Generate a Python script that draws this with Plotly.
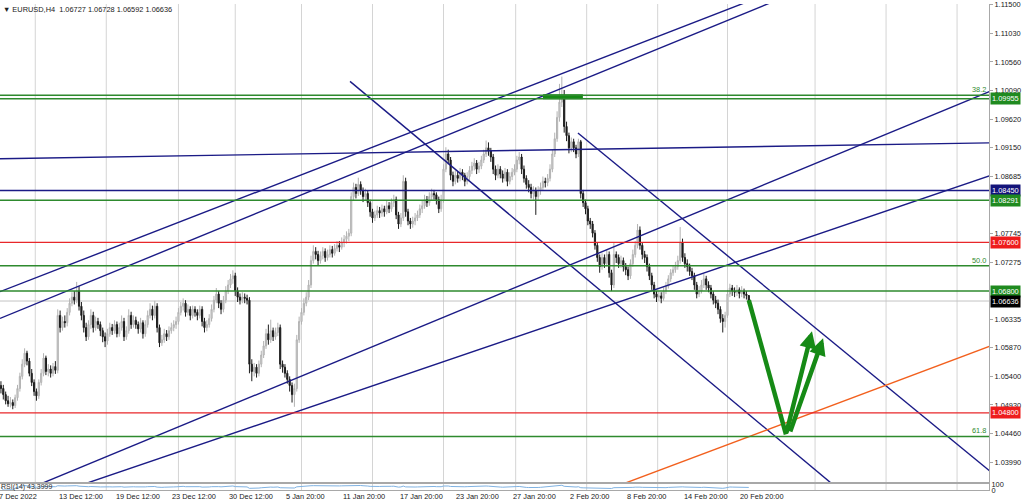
import numpy as np
import plotly.graph_objects as go

# ---------------- data ----------------
first_open = 1.0525
closes = [
    1.0520, 1.0510, 1.0500, 1.0495, 1.0497, 1.0492, 1.0505, 1.0520, 1.0540, 1.0560,   # 0
    1.0578, 1.0565, 1.0545, 1.0530, 1.0515, 1.0508, 1.0530, 1.0545, 1.0570, 1.0548,   # 10
    1.0552, 1.0545, 1.0556, 1.0550, 1.0640, 1.0620, 1.0630, 1.0628, 1.0645, 1.0660,   # 20
    1.0670, 1.0665, 1.0680, 1.0655, 1.0640, 1.0620, 1.0605, 1.0625, 1.0640, 1.0620,   # 30
    1.0630, 1.0625, 1.0615, 1.0605, 1.0598, 1.0610, 1.0620, 1.0615, 1.0625, 1.0610,   # 40
    1.0620, 1.0630, 1.0605, 1.0615, 1.0640, 1.0625, 1.0632, 1.0625, 1.0618, 1.0628,   # 50
    1.0610, 1.0625, 1.0640, 1.0650, 1.0640, 1.0655, 1.0620, 1.0595, 1.0600, 1.0610,   # 60
    1.0605, 1.0615, 1.0620, 1.0625, 1.0630, 1.0645, 1.0655, 1.0660, 1.0645, 1.0650,   # 70
    1.0640, 1.0650, 1.0645, 1.0640, 1.0650, 1.0630, 1.0620, 1.0625, 1.0635, 1.0650,   # 80
    1.0665, 1.0675, 1.0660, 1.0650, 1.0665, 1.0680, 1.0690, 1.0700, 1.0705, 1.0680,   # 90
    1.0670, 1.0665, 1.0670, 1.0668, 1.0665, 1.0560, 1.0548, 1.0555, 1.0545, 1.0560,   # 100
    1.0575, 1.0590, 1.0610, 1.0600, 1.0615, 1.0605, 1.0612, 1.0620, 1.0560, 1.0555,   # 110
    1.0545, 1.0535, 1.0525, 1.0510, 1.0520, 1.0600, 1.0630, 1.0645, 1.0660, 1.0670,   # 120
    1.0690, 1.0730, 1.0745, 1.0740, 1.0730, 1.0738, 1.0745, 1.0735, 1.0740, 1.0748,   # 130
    1.0742, 1.0750, 1.0755, 1.0752, 1.0760, 1.0765, 1.0770, 1.0775, 1.0835, 1.0850,   # 140
    1.0840, 1.0855, 1.0845, 1.0835, 1.0840, 1.0825, 1.0810, 1.0800, 1.0805, 1.0812,   # 150
    1.0808, 1.0815, 1.0810, 1.0820, 1.0815, 1.0825, 1.0830, 1.0805, 1.0790, 1.0800,   # 160
    1.0860, 1.0810, 1.0795, 1.0790, 1.0795, 1.0800, 1.0805, 1.0815, 1.0820, 1.0830,   # 170
    1.0825, 1.0835, 1.0840, 1.0838, 1.0830, 1.0815, 1.0830, 1.0880, 1.0905, 1.0895,   # 180
    1.0870, 1.0860, 1.0870, 1.0865, 1.0875, 1.0870, 1.0860, 1.0868, 1.0878, 1.0885,   # 190
    1.0890, 1.0880, 1.0885, 1.0895, 1.0905, 1.0915, 1.0910, 1.0900, 1.0880, 1.0870,   # 200
    1.0880, 1.0872, 1.0865, 1.0875, 1.0860, 1.0868, 1.0875, 1.0880, 1.0895, 1.0900,   # 210
    1.0880, 1.0865, 1.0855, 1.0850, 1.0840, 1.0845, 1.0835, 1.0845, 1.0850, 1.0860,   # 220
    1.0858, 1.0865, 1.0880, 1.0905, 1.0930, 1.0965, 1.0990, 1.1000, 1.0950, 1.0935,   # 230
    1.0915, 1.0925, 1.0915, 1.0905, 1.0925, 1.0840, 1.0825, 1.0815, 1.0795, 1.0790,   # 240
    1.0775, 1.0755, 1.0735, 1.0720, 1.0735, 1.0725, 1.0740, 1.0710, 1.0690, 1.0740,   # 250
    1.0735, 1.0725, 1.0730, 1.0720, 1.0715, 1.0705, 1.0725, 1.0740, 1.0755, 1.0780,   # 260
    1.0755, 1.0740, 1.0735, 1.0720, 1.0705, 1.0690, 1.0675, 1.0670, 1.0672, 1.0668,   # 270
    1.0680, 1.0688, 1.0700, 1.0710, 1.0715, 1.0720, 1.0730, 1.0760, 1.0735, 1.0725,   # 280
    1.0720, 1.0712, 1.0705, 1.0690, 1.0675, 1.0680, 1.0690, 1.0700, 1.0690, 1.0685,   # 290
    1.0675, 1.0665, 1.0660, 1.0650, 1.0635, 1.0630, 1.0640, 1.0675, 1.0685, 1.0680,   # 300
    1.0678, 1.0682, 1.0676, 1.0680, 1.0675, 1.06727, 1.06636,                         # 310
]
highs = [
    1.0532, 1.0526, 1.0515, 1.0508, 1.0506, 1.0502, 1.0510, 1.0526, 1.0546, 1.0568,
    1.0586, 1.0582, 1.0570, 1.0552, 1.0535, 1.0520, 1.0535, 1.0552, 1.0578, 1.0574,
    1.0560, 1.0558, 1.0562, 1.0565, 1.0650, 1.0648, 1.0638, 1.0640, 1.0652, 1.0668,
    1.0678, 1.0680, 1.0695, 1.0688, 1.0662, 1.0648, 1.0628, 1.0632, 1.0650, 1.0646,
    1.0638, 1.0636, 1.0630, 1.0620, 1.0612, 1.0618, 1.0628, 1.0626, 1.0632, 1.0630,
    1.0628, 1.0640, 1.0636, 1.0622, 1.0650, 1.0646, 1.0640, 1.0638, 1.0630, 1.0636,
    1.0632, 1.0632, 1.0648, 1.0660, 1.0656, 1.0664, 1.0660, 1.0625, 1.0608, 1.0618,
    1.0616, 1.0622, 1.0628, 1.0632, 1.0638, 1.0652, 1.0662, 1.0668, 1.0665, 1.0658,
    1.0655, 1.0656, 1.0655, 1.0650, 1.0656, 1.0655, 1.0636, 1.0632, 1.0642, 1.0658,
    1.0672, 1.0685, 1.0680, 1.0665, 1.0672, 1.0688, 1.0698, 1.0708, 1.0714, 1.0710,
    1.0686, 1.0676, 1.0678, 1.0676, 1.0674, 1.0670, 1.0568, 1.0562, 1.0560, 1.0566,
    1.0582, 1.0598, 1.0618, 1.0625, 1.0633, 1.0620, 1.0620, 1.0628, 1.0625, 1.0566,
    1.0560, 1.0550, 1.0540, 1.0530, 1.0528, 1.0608, 1.0638, 1.0652, 1.0668, 1.0678,
    1.0698, 1.0738, 1.0755, 1.0752, 1.0746, 1.0745, 1.0752, 1.0750, 1.0748, 1.0755,
    1.0754, 1.0757, 1.0762, 1.0762, 1.0768, 1.0772, 1.0778, 1.0782, 1.0842, 1.0858,
    1.0856, 1.0866, 1.0860, 1.0850, 1.0848, 1.0845, 1.0830, 1.0815, 1.0812, 1.0820,
    1.0818, 1.0822, 1.0820, 1.0828, 1.0826, 1.0832, 1.0838, 1.0835, 1.0810, 1.0808,
    1.0870, 1.0866, 1.0815, 1.0800, 1.0802, 1.0808, 1.0812, 1.0822, 1.0828, 1.0838,
    1.0836, 1.0842, 1.0848, 1.0846, 1.0842, 1.0835, 1.0838, 1.0888, 1.0916, 1.0912,
    1.0900, 1.0876, 1.0878, 1.0876, 1.0882, 1.0880, 1.0874, 1.0875, 1.0885, 1.0892,
    1.0898, 1.0895, 1.0892, 1.0902, 1.0912, 1.0927, 1.0924, 1.0915, 1.0905, 1.0886,
    1.0888, 1.0885, 1.0878, 1.0882, 1.0880, 1.0875, 1.0882, 1.0888, 1.0902, 1.0908,
    1.0905, 1.0886, 1.0870, 1.0862, 1.0856, 1.0852, 1.0850, 1.0852, 1.0858, 1.0868,
    1.0866, 1.0872, 1.0888, 1.0912, 1.0940, 1.0975, 1.1020, 1.1032, 1.1010, 1.0958,
    1.0940, 1.0932, 1.0930, 1.0920, 1.0930, 1.0928, 1.0846, 1.0830, 1.0820, 1.0800,
    1.0795, 1.0780, 1.0760, 1.0740, 1.0742, 1.0740, 1.0748, 1.0745, 1.0715, 1.0760,
    1.0745, 1.0740, 1.0738, 1.0735, 1.0726, 1.0720, 1.0732, 1.0748, 1.0762, 1.0790,
    1.0786, 1.0760, 1.0746, 1.0740, 1.0725, 1.0710, 1.0695, 1.0680, 1.0680, 1.0678,
    1.0686, 1.0695, 1.0706, 1.0716, 1.0722, 1.0728, 1.0738, 1.0785, 1.0766, 1.0742,
    1.0732, 1.0725, 1.0718, 1.0710, 1.0695, 1.0688, 1.0698, 1.0708, 1.0705, 1.0696,
    1.0690, 1.0680, 1.0672, 1.0666, 1.0655, 1.0642, 1.0646, 1.0682, 1.0692, 1.0690,
    1.0686, 1.0690, 1.0686, 1.0688, 1.0684, 1.0680, 1.06728,
]
lows = [
    1.0512, 1.0502, 1.0494, 1.0490, 1.0489, 1.0486, 1.0488, 1.0500, 1.0515, 1.0535,
    1.0555, 1.0558, 1.0540, 1.0524, 1.0508, 1.0500, 1.0503, 1.0525, 1.0540, 1.0542,
    1.0540, 1.0538, 1.0540, 1.0544, 1.0545, 1.0612, 1.0615, 1.0620, 1.0622, 1.0640,
    1.0655, 1.0658, 1.0660, 1.0648, 1.0632, 1.0612, 1.0598, 1.0600, 1.0618, 1.0612,
    1.0615, 1.0618, 1.0606, 1.0596, 1.0588, 1.0592, 1.0605, 1.0608, 1.0610, 1.0604,
    1.0605, 1.0615, 1.0598, 1.0600, 1.0610, 1.0618, 1.0620, 1.0618, 1.0610, 1.0612,
    1.0602, 1.0605, 1.0620, 1.0635, 1.0632, 1.0635, 1.0612, 1.0588, 1.0590, 1.0595,
    1.0598, 1.0600, 1.0610, 1.0614, 1.0618, 1.0625, 1.0640, 1.0648, 1.0638, 1.0640,
    1.0632, 1.0635, 1.0638, 1.0632, 1.0635, 1.0622, 1.0612, 1.0614, 1.0620, 1.0630,
    1.0645, 1.0660, 1.0652, 1.0642, 1.0645, 1.0660, 1.0675, 1.0685, 1.0692, 1.0672,
    1.0662, 1.0658, 1.0660, 1.0660, 1.0658, 1.0545, 1.0532, 1.0540, 1.0538, 1.0540,
    1.0555, 1.0570, 1.0585, 1.0592, 1.0595, 1.0598, 1.0600, 1.0606, 1.0552, 1.0546,
    1.0538, 1.0528, 1.0515, 1.0497, 1.0490, 1.0515, 1.0595, 1.0625, 1.0640, 1.0655,
    1.0665, 1.0685, 1.0725, 1.0732, 1.0722, 1.0725, 1.0732, 1.0728, 1.0730, 1.0735,
    1.0735, 1.0738, 1.0745, 1.0744, 1.0748, 1.0752, 1.0758, 1.0762, 1.0770, 1.0828,
    1.0832, 1.0836, 1.0838, 1.0826, 1.0828, 1.0818, 1.0802, 1.0792, 1.0795, 1.0800,
    1.0800, 1.0802, 1.0802, 1.0806, 1.0808, 1.0810, 1.0818, 1.0798, 1.0782, 1.0785,
    1.0795, 1.0802, 1.0788, 1.0782, 1.0784, 1.0788, 1.0795, 1.0800, 1.0808, 1.0815,
    1.0818, 1.0820, 1.0828, 1.0830, 1.0822, 1.0808, 1.0810, 1.0825, 1.0875, 1.0888,
    1.0862, 1.0852, 1.0855, 1.0858, 1.0860, 1.0862, 1.0852, 1.0855, 1.0862, 1.0872,
    1.0878, 1.0872, 1.0874, 1.0880, 1.0890, 1.0900, 1.0902, 1.0892, 1.0872, 1.0862,
    1.0865, 1.0865, 1.0858, 1.0860, 1.0852, 1.0855, 1.0862, 1.0870, 1.0875, 1.0888,
    1.0872, 1.0858, 1.0848, 1.0842, 1.0832, 1.0830, 1.0805, 1.0828, 1.0838, 1.0845,
    1.0850, 1.0852, 1.0860, 1.0875, 1.0900, 1.0925, 1.0958, 1.0982, 1.0940, 1.0926,
    1.0906, 1.0908, 1.0908, 1.0898, 1.0900, 1.0832, 1.0818, 1.0806, 1.0788, 1.0782,
    1.0768, 1.0748, 1.0728, 1.0710, 1.0715, 1.0718, 1.0720, 1.0702, 1.0680, 1.0685,
    1.0726, 1.0718, 1.0718, 1.0712, 1.0706, 1.0698, 1.0700, 1.0720, 1.0735, 1.0750,
    1.0748, 1.0732, 1.0726, 1.0712, 1.0698, 1.0682, 1.0668, 1.0662, 1.0664, 1.0660,
    1.0664, 1.0675, 1.0684, 1.0695, 1.0705, 1.0710, 1.0715, 1.0725, 1.0728, 1.0718,
    1.0712, 1.0705, 1.0698, 1.0682, 1.0668, 1.0670, 1.0676, 1.0685, 1.0682, 1.0678,
    1.0668, 1.0658, 1.0652, 1.0642, 1.0628, 1.0612, 1.0620, 1.0636, 1.0670, 1.0672,
    1.0670, 1.0672, 1.0668, 1.0670, 1.0668, 1.0666, 1.06592,
]
n_bars = min(len(closes), len(highs), len(lows))
closes, highs, lows = closes[:n_bars], highs[:n_bars], lows[:n_bars]
opens = [first_open] + closes[:-1]
bars = list(range(n_bars))

# time-axis labels (one every 24 H4 bars) and weekly grid positions (bar index)
date_labels = ["7 Dec 2022", "13 Dec 12:00", "19 Dec 12:00", "23 Dec 12:00", "30 Dec 12:00",
               "5 Jan 20:00", "11 Jan 20:00", "17 Jan 20:00", "23 Jan 20:00", "27 Jan 20:00",
               "2 Feb 20:00", "8 Feb 20:00", "14 Feb 20:00", "20 Feb 20:00"]
date_label_bars = [0, 24, 48, 72, 96, 120, 144, 168, 192, 216, 240, 264, 288, 312]
grid_bars = [14.5, 44.5, 75, 99, 127, 157, 187, 217.5, 247.5, 277.5, 307, 344, 374, 404]

# price scale ticks
price_ticks = [1.11500, 1.11030, 1.10560, 1.10090, 1.09620, 1.09150, 1.08685, 1.07745,
               1.07275, 1.06335, 1.05870, 1.05400, 1.04930, 1.04460, 1.03990]

# horizontal levels
green_levels = [1.10013, 1.09955, 1.08291, 1.07214, 1.06800, 1.04414]
red_levels = [1.07600, 1.04800]
navy_levels = [1.08450]
bid_price = 1.06636
fib_labels = [("38.2", 1.10013), ("50.0", 1.07214), ("61.8", 1.04414)]
price_boxes = [(1.09955, "#1f8a1f"), (1.08450, "#14147a"), (1.08291, "#1f8a1f"),
               (1.07600, "#ee1c1c"), (1.06800, "#1f8a1f"), (1.06636, "#000000"),
               (1.04800, "#ee1c1c")]

# trend lines: (bar indices, prices)
navy_lines = [
    ([-0.4, 337.6], [1.06790, 1.11882]),
    ([-0.4, 337.6], [1.06351, 1.11729]),
    ([-0.4, 417.9], [1.03359, 1.10079]),
    ([-0.4, 417.9], [1.03162, 1.08695]),
    ([-0.4, 417.9], [1.08972, 1.09232]),
    ([147.5, 358.8], [1.10241, 1.03388]),
    ([243.8, 417.9], [1.09395, 1.03844]),
]
orange_line = ([253.1, 417.9], [1.03492, 1.05895])
green_block = ([229.0, 245.9], [1.09989, 1.09989])
arrow_down = ([316.0, 331.7], [1.06650, 1.04446])
arrow_ups = [((331.7, 1.04446), (342.7, 1.06139)), ((333.3, 1.04470), (347.4, 1.06025))]

# ---------------- indicator ----------------
c = np.array(closes)
d = np.diff(c)
g = np.where(d > 0, d, 0.0)
l_ = np.where(d < 0, -d, 0.0)
rsi = [50.0]
ag, al = g[0], l_[0]
for i in range(len(d)):
    if i < 14:
        ag = g[:i + 1].mean(); al = l_[:i + 1].mean()
    else:
        ag = (ag * 13 + g[i]) / 14; al = (al * 13 + l_[i]) / 14
    rsi.append(100.0 if al == 0 else 100 - 100 / (1 + ag / al))

# ---------------- figure ----------------
FONT = "Liberation Sans, Arial, sans-serif"
NAVY = "#1b1b86"
GREEN = "#2e8a2e"
XR = [-0.4, 417.5]
main_bottom = 8 / 490
rsi_top = 6 / 490

fig = go.Figure()
fig.add_trace(go.Candlestick(
    x=bars, open=opens, high=highs, low=lows, close=closes,
    increasing=dict(line=dict(color="#b2b2b2", width=1), fillcolor="#d6d6d6"),
    decreasing=dict(line=dict(color="#1c1c1c", width=1), fillcolor="#1c1c1c"),
    whiskerwidth=0, hoverinfo="skip", showlegend=False, xaxis="x", yaxis="y"))

for bx, py in navy_lines:
    fig.add_trace(go.Scatter(x=bx, y=py, mode="lines", line=dict(color=NAVY, width=1.4),
                             hoverinfo="skip", showlegend=False, xaxis="x", yaxis="y"))
fig.add_trace(go.Scatter(x=orange_line[0], y=orange_line[1], mode="lines",
                         line=dict(color="#f2601e", width=1.4), hoverinfo="skip",
                         showlegend=False, xaxis="x", yaxis="y"))
fig.add_trace(go.Scatter(x=green_block[0], y=green_block[1], mode="lines",
                         line=dict(color="#168a16", width=5), hoverinfo="skip",
                         showlegend=False, xaxis="x", yaxis="y"))
fig.add_trace(go.Scatter(x=arrow_down[0], y=arrow_down[1], mode="lines",
                         line=dict(color="#168a16", width=4.5), hoverinfo="skip",
                         showlegend=False, xaxis="x", yaxis="y"))
fig.add_trace(go.Scatter(x=bars, y=rsi, mode="lines", line=dict(color="#7fb2e2", width=1),
                         hoverinfo="skip", showlegend=False, xaxis="x2", yaxis="y2"))

shapes = []
for gb in grid_bars:
    shapes.append(dict(type="line", xref="x", yref="paper", x0=gb, x1=gb, y0=0, y1=1,
                       line=dict(color="#d4d4d4", width=1), layer="below"))
shapes.append(dict(type="line", xref="paper", yref="y", x0=0, x1=1, y0=bid_price, y1=bid_price,
                   line=dict(color="#c4c4c4", width=1), layer="below"))
for lv in green_levels:
    shapes.append(dict(type="line", xref="paper", yref="y", x0=0, x1=1, y0=lv, y1=lv,
                       line=dict(color=GREEN, width=1.5)))
for lv in red_levels:
    shapes.append(dict(type="line", xref="paper", yref="y", x0=0, x1=1, y0=lv, y1=lv,
                       line=dict(color="#e8272a", width=1.3)))
for lv in navy_levels:
    shapes.append(dict(type="line", xref="paper", yref="y", x0=0, x1=1, y0=lv, y1=lv,
                       line=dict(color=NAVY, width=1.4)))

annotations = []
for (x0, y0), (x1, y1) in arrow_ups:
    annotations.append(dict(x=x1, y=y1, ax=x0, ay=y0, xref="x", yref="y", axref="x", ayref="y",
                            text="", showarrow=True, arrowhead=2, arrowsize=0.75,
                            arrowwidth=4.5, arrowcolor="#168a16", standoff=0))
for txt, lv in fib_labels:
    annotations.append(dict(x=1, y=lv, xref="paper", yref="y", text=txt, showarrow=False,
                            xanchor="right", yanchor="bottom", xshift=-1, yshift=-1,
                            font=dict(family=FONT, size=7.4, color=GREEN)))
for lv, col in price_boxes:
    annotations.append(dict(x=1, y=lv, xref="paper", yref="y", text=f"{lv:.5f}",
                            showarrow=False, xanchor="left", yanchor="middle", xshift=1,
                            bgcolor=col, borderpad=1,
                            font=dict(family=FONT, size=7.4, color="white")))
for lbl, b in zip(date_labels, date_label_bars):
    annotations.append(dict(x=b, y=0, xref="x", yref="paper", text=lbl, showarrow=False,
                            xanchor="left", yanchor="middle", yshift=-6,
                            xshift=-4 if b == 0 else -1,
                            font=dict(family=FONT, size=7.4, color="#202020")))
annotations.append(dict(x=0, y=1, xref="paper", yref="paper",
                        text="\u25BC EURUSD,H4  1.06727 1.06728 1.06592 1.06636",
                        showarrow=False, xanchor="left", yanchor="middle", yshift=-5, xshift=1,
                        font=dict(family=FONT, size=7.4, color="#202020")))
annotations.append(dict(x=0, y=rsi_top, xref="paper", yref="paper", text="RSI(14) 43.3999",
                        showarrow=False, xanchor="left", yanchor="middle", yshift=-3, xshift=-1,
                        font=dict(family=FONT, size=7.0, color="#303030")))

fig.update_layout(
    width=1024, height=501, margin=dict(l=0, r=35, t=0, b=11),
    paper_bgcolor="white", plot_bgcolor="white", showlegend=False,
    shapes=shapes, annotations=annotations,
    xaxis=dict(domain=[0, 1], range=XR, anchor="y", showgrid=False, zeroline=False,
               showticklabels=False, ticks="", showline=True, linecolor="#a8a8a8", linewidth=1,
               rangeslider=dict(visible=False), fixedrange=True),
    yaxis=dict(domain=[main_bottom, 1], range=[1.036648, 1.115111], anchor="x", side="right",
               tickvals=price_ticks, ticktext=[f"{v:.5f}" for v in price_ticks],
               showgrid=False, zeroline=False, showline=True, linecolor="#a8a8a8", linewidth=1,
               ticks="outside", ticklen=3, tickcolor="#a8a8a8",
               tickfont=dict(family=FONT, size=7.4, color="#202020"), fixedrange=True),
    xaxis2=dict(domain=[0, 1], range=XR, anchor="y2", showgrid=False, zeroline=False,
                showticklabels=False, ticks="", showline=True, mirror=True,
                linecolor="#a8a8a8", linewidth=1, fixedrange=True),
    yaxis2=dict(domain=[0, rsi_top], range=[0, 100], anchor="x2", side="right",
                tickvals=[0, 100], ticktext=["0", "100"], showgrid=False, zeroline=False,
                showline=True, linecolor="#a8a8a8", linewidth=1, ticks="",
                tickfont=dict(family=FONT, size=7.4, color="#202020"), fixedrange=True),
)

fig.write_html("out.html", config={"displayModeBar": False},
               post_script="document.body.style.margin='0px';document.body.style.overflow='hidden';")
